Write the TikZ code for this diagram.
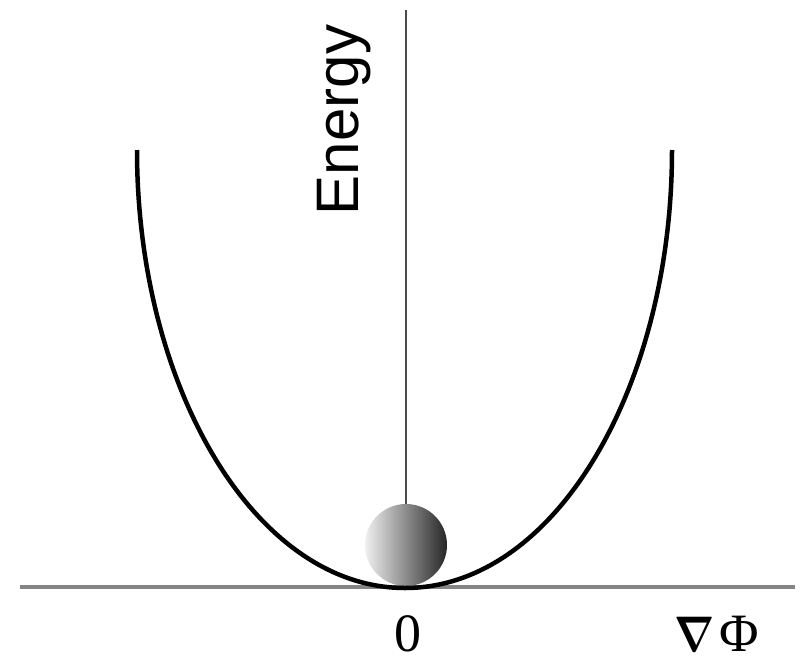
\documentclass[tikz,border=0pt]{standalone}
\usepackage{fontspec}
\usepackage{graphicx}
\setmainfont{Liberation Serif}
\setsansfont{Liberation Sans}
\begin{document}
\begin{tikzpicture}[x=1pt,y=-1pt,
  curve/.style={line width=4.5pt,black},
  haxis/.style={line width=3.2pt,black!48},
  vaxis/.style={line width=1.6pt,black!70},
  lbl/.style={inner sep=0pt,font=\fontsize{54}{54}\selectfont}]
\useasboundingbox (0,0) rectangle (800,664);
% axes
\coordinate (vtop) at (406,10);
\coordinate (orig) at (406,587);
\coordinate (hleft) at (20,587);
\coordinate (hright) at (795,587);
\draw[vaxis] (vtop) -- (orig);
% ball
\shade[left color=black!6,right color=black!85] (406,545) circle (41);
\draw[haxis] (hleft) -- (hright);
% energy curve
\coordinate (vert) at (405,588);
\coordinate (ltop) at (137,150);
\coordinate (rtop) at (672,150);
\draw[curve] (ltop) .. controls (137,387) and (255,588) .. (vert)
             .. controls (555,588) and (672,387) .. (rtop);
% labels
\node[lbl,rotate=90,anchor=base,font=\sffamily\fontsize{60}{60}\selectfont] (energy) at (358,120) {Energy};
\node[lbl,anchor=base] (zero) at (408,651) {0};
\node[lbl,anchor=base west] (gradphi) at (674,651) {\scalebox{4.2}[5.0]{\normalsize\boldmath$\nabla$}\kern5pt Φ};
\end{tikzpicture}
\end{document}
